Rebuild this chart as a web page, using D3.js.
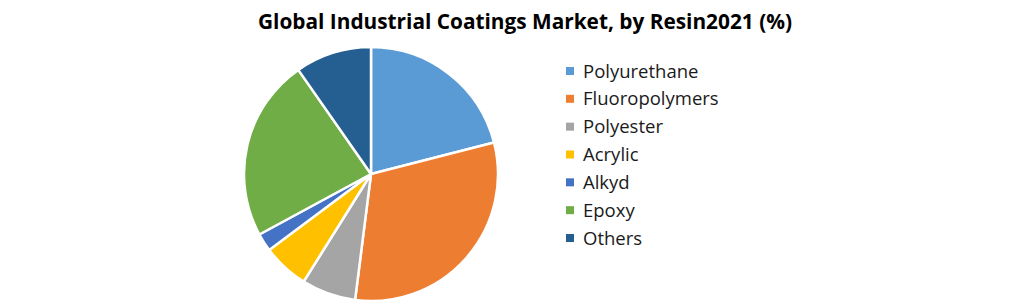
<!DOCTYPE html>
<html>
<head>
<meta charset="utf-8">
<script src="https://cdn.jsdelivr.net/npm/d3@7"></script>
<style>
  body { margin: 0; background: #fff; }
  svg { display: block; }
</style>
</head>
<body>
<svg id="chart" width="1021" height="304"></svg>
<script>
// values
var categories = ["Polyurethane", "Fluoropolymers", "Polyester", "Acrylic", "Alkyd", "Epoxy", "Others"];
var shares = [21.0, 31.0, 6.9, 5.9, 2.3, 23.2, 9.7];
var colours = ["#5B9BD5", "#ED7D31", "#A5A5A5", "#FFC000", "#4472C4", "#70AD47", "#255E91"];
var chartTitle = "Global Industrial Coatings Market, by Resin2021 (%)";

var svg = d3.select("#chart"),
    cx = 371, cy = 174, radius = 127;

var data = categories.map(function(c, i){ return {name: c, value: shares[i]}; });

var colour = d3.scaleOrdinal().domain(categories).range(colours);

var pie = d3.pie().sort(null).value(function(d){ return d.value; });
var arc = d3.arc().innerRadius(0).outerRadius(radius);

svg.append("text")
    .attr("x", 525)
    .attr("y", 29)
    .attr("text-anchor", "middle")
    .attr("font-family", "'Open Sans', sans-serif")
    .attr("font-weight", "bold")
    .attr("font-size", 21)
    .attr("fill", "#000")
    .attr("textLength", 534)
    .attr("lengthAdjust", "spacingAndGlyphs")
    .text(chartTitle);

var g = svg.append("g").attr("transform", "translate(" + cx + "," + cy + ")");
g.selectAll("path")
    .data(pie(data))
    .enter().append("path")
    .attr("d", arc)
    .attr("fill", function(d){ return colour(d.data.name); })
    .attr("stroke", "#fff")
    .attr("stroke-width", 2.5)
    .attr("stroke-linejoin", "round");

var legendY = d3.scalePoint().domain(categories).range([71, 238]);
var legend = svg.append("g");
var item = legend.selectAll("g")
    .data(categories)
    .enter().append("g")
    .attr("transform", function(d){ return "translate(566," + legendY(d) + ")"; });
item.append("rect")
    .attr("x", 0).attr("y", -4)
    .attr("width", 8).attr("height", 8)
    .attr("fill", function(d){ return colour(d); });
item.append("text")
    .attr("x", 17)
    .attr("y", 6.5)
    .attr("font-family", "'Open Sans', sans-serif")
    .attr("font-size", 18.5)
    .attr("fill", "#1a1a1a")
    .text(function(d){ return d; });
</script>
</body>
</html>
